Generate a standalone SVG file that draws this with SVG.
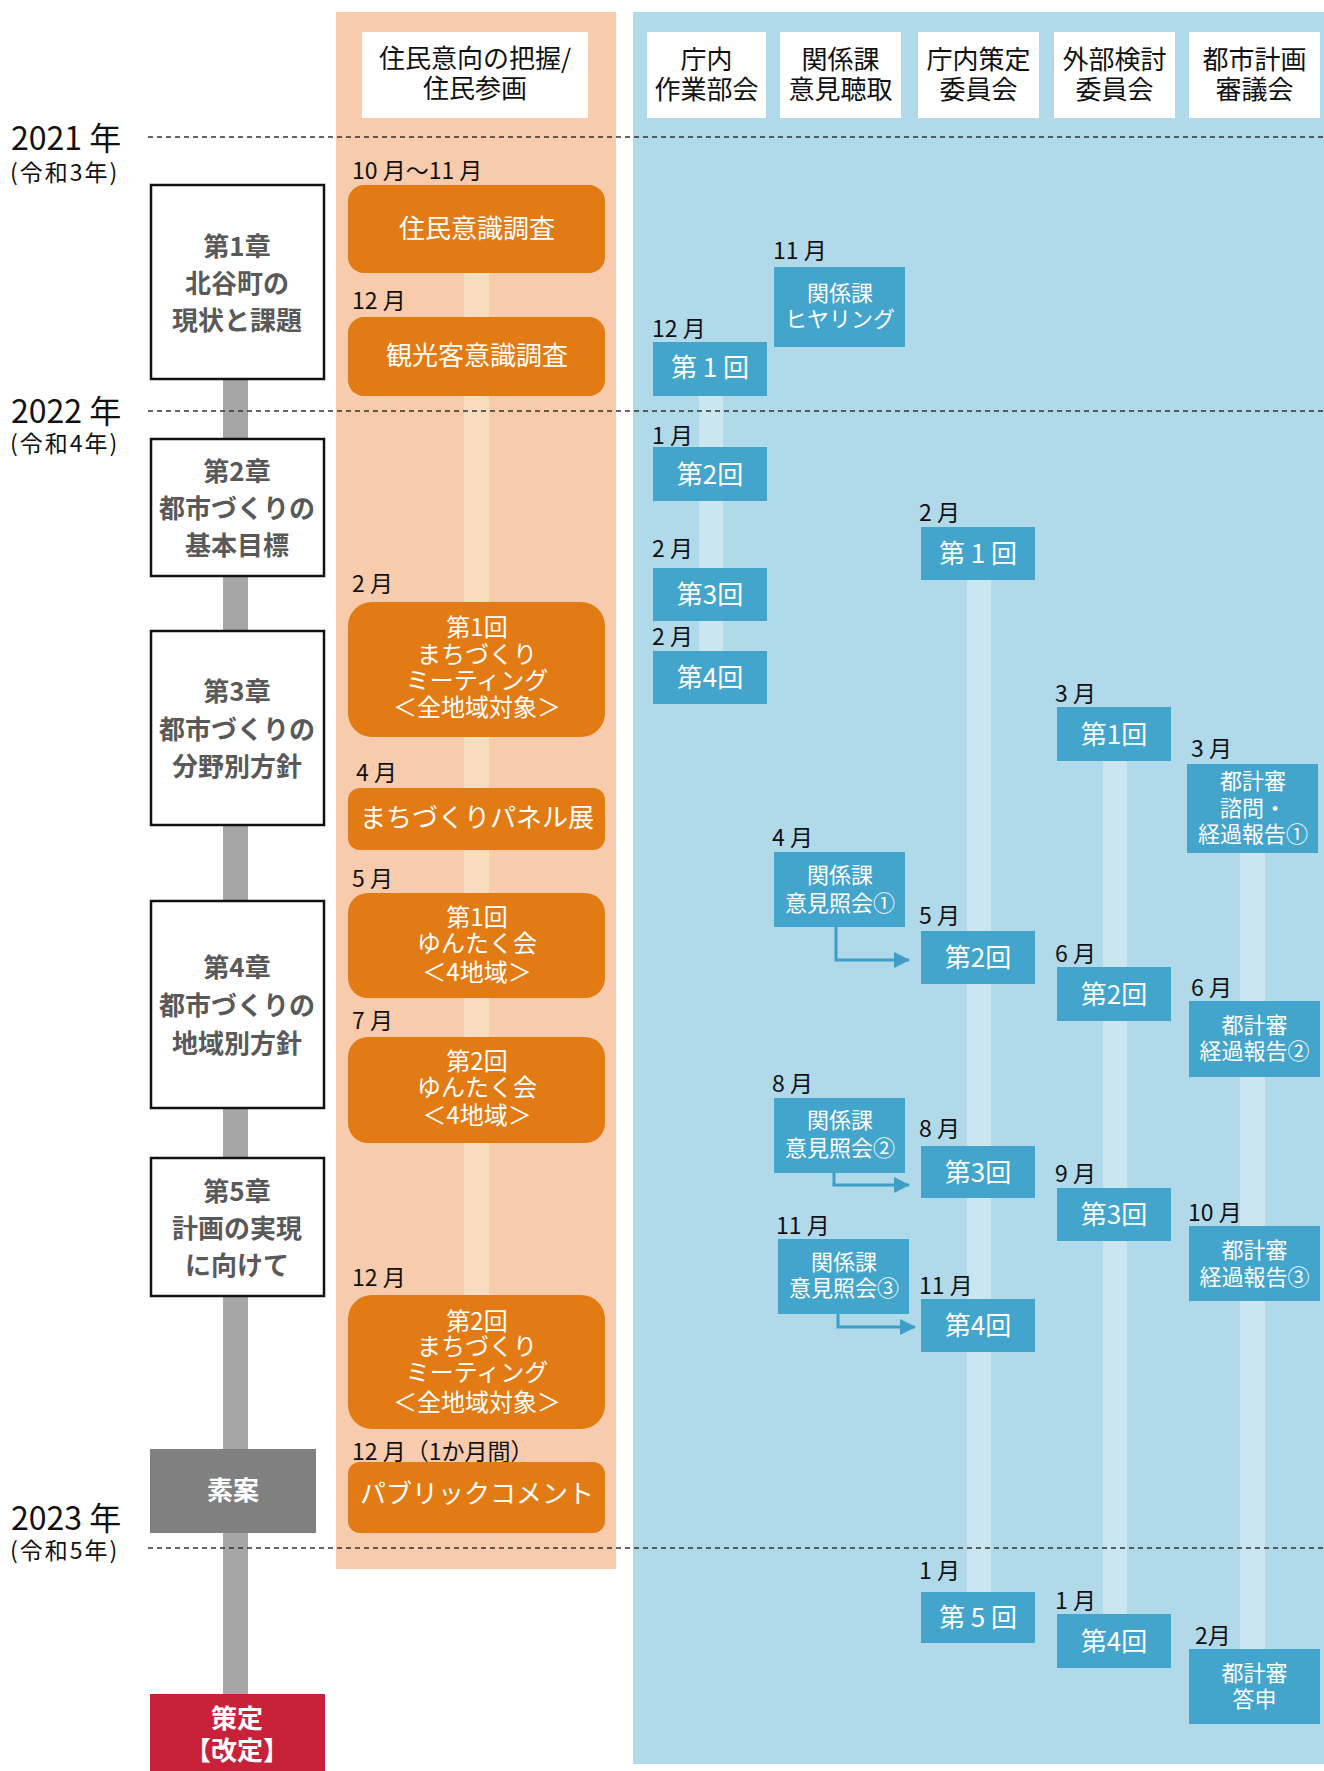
<svg xmlns="http://www.w3.org/2000/svg" width="1324" height="1771" viewBox="0 0 1324 1771">
<style>
text{font-family:"Noto Sans CJK JP","Noto Sans",sans-serif}
.hd{font-size:26px;fill:#111;text-anchor:middle}
.yr{font-size:32px;fill:#111}
.era{font-size:23px;fill:#111;letter-spacing:2px}
.ch{fill:#fff;stroke:#111;stroke-width:2.5}
.cht{font-size:26px;font-weight:bold;fill:#595959;text-anchor:middle}
.ob{fill:#e27b14}
.obt{font-size:26px;fill:#fff;text-anchor:middle}
.obm{font-size:24px;fill:#fff;text-anchor:middle}
.mo{font-size:23px;fill:#111}
.bb{fill:#44a5cc}
.bbt{font-size:26px;fill:#fff;text-anchor:middle}
.bbs{font-size:22px;fill:#fff;text-anchor:middle}
.dash{stroke:#333;stroke-width:1.5;stroke-dasharray:5 4;fill:none}
.arr{stroke:#3d9fc6;stroke-width:3;fill:none}
</style>
<defs>
<marker id="ah" viewBox="0 0 16 16" refX="15" refY="8" markerWidth="16" markerHeight="16" markerUnits="userSpaceOnUse" orient="auto">
<path d="M0,0 L16,8 L0,16 z" fill="#3d9fc6"/>
</marker>
</defs>
<rect width="1324" height="1771" fill="#fff"/>
<!-- backgrounds -->
<rect x="336" y="12" width="280" height="1557" fill="#f7cbab"/>
<rect x="633" y="12" width="691" height="1752" fill="#b0d9ea"/>
<!-- stripes -->
<rect x="464" y="273" width="25" height="1025" fill="#f8dcc0"/>
<rect x="699" y="396" width="24" height="256" fill="#c9e6f1"/>
<rect x="967" y="580" width="24" height="1013" fill="#c9e6f1"/>
<rect x="1103" y="761" width="24" height="854" fill="#c9e6f1"/>
<rect x="1240" y="853" width="25" height="797" fill="#c9e6f1"/>
<!-- gray timeline bar -->
<rect x="223" y="380" width="25" height="1315" fill="#a6a6a6"/>
<!-- headers -->
<g id="hdr-resident"><rect x="362" y="32" width="226" height="86" fill="#fff"/><text class="hd" y="68"><tspan x="475">住民意向の把握/</tspan><tspan x="475" dy="30">住民参画</tspan></text></g>
<g id="hdr-sagyo"><rect x="647" y="32" width="119" height="86" fill="#fff"/><text class="hd" y="69"><tspan x="706.5">庁内</tspan><tspan x="706.5" dy="30">作業部会</tspan></text></g>
<g id="hdr-kankei"><rect x="780" y="32" width="121" height="86" fill="#fff"/><text class="hd" y="69"><tspan x="840.5">関係課</tspan><tspan x="840.5" dy="30">意見聴取</tspan></text></g>
<g id="hdr-sakutei"><rect x="918" y="32" width="121" height="86" fill="#fff"/><text class="hd" y="69"><tspan x="978.5">庁内策定</tspan><tspan x="978.5" dy="30">委員会</tspan></text></g>
<g id="hdr-gaibu"><rect x="1054" y="32" width="121" height="86" fill="#fff"/><text class="hd" y="69"><tspan x="1114.5">外部検討</tspan><tspan x="1114.5" dy="30">委員会</tspan></text></g>
<g id="hdr-toshi"><rect x="1189" y="32" width="131" height="86" fill="#fff"/><text class="hd" y="69"><tspan x="1254.5">都市計画</tspan><tspan x="1254.5" dy="30">審議会</tspan></text></g>
<!-- year lines -->
<g id="years">
<line class="dash" x1="148" y1="137" x2="1324" y2="137"/>
<line class="dash" x1="148" y1="411" x2="1324" y2="411"/>
<line class="dash" x1="148" y1="1548" x2="1324" y2="1548"/>
<text class="yr" x="11" y="150">2021 年</text><text class="era" x="10" y="181">(令和3年)</text>
<text class="yr" x="11" y="423">2022 年</text><text class="era" x="10" y="452">(令和4年)</text>
<text class="yr" x="11" y="1530">2023 年</text><text class="era" x="10" y="1559">(令和5年)</text>
</g>
<!-- chapters -->
<g id="ch1"><rect class="ch" x="151" y="185" width="173" height="194"/><text class="cht" y="256"><tspan x="237">第1章</tspan><tspan x="237" dy="37">北谷町の</tspan><tspan x="237" dy="37">現状と課題</tspan></text></g>
<g id="ch2"><rect class="ch" x="151" y="439" width="173" height="137"/><text class="cht" y="481"><tspan x="237">第2章</tspan><tspan x="237" dy="37">都市づくりの</tspan><tspan x="237" dy="37">基本目標</tspan></text></g>
<g id="ch3"><rect class="ch" x="151" y="631" width="173" height="194"/><text class="cht" y="701"><tspan x="237">第3章</tspan><tspan x="237" dy="38">都市づくりの</tspan><tspan x="237" dy="37">分野別方針</tspan></text></g>
<g id="ch4"><rect class="ch" x="151" y="901" width="173" height="207"/><text class="cht" y="977"><tspan x="237">第4章</tspan><tspan x="237" dy="38">都市づくりの</tspan><tspan x="237" dy="38">地域別方針</tspan></text></g>
<g id="ch5"><rect class="ch" x="151" y="1158" width="173" height="138"/><text class="cht" y="1201"><tspan x="237">第5章</tspan><tspan x="237" dy="37">計画の実現</tspan><tspan x="237" dy="37">に向けて</tspan></text></g>
<g id="soan"><rect x="150" y="1449" width="166" height="84" fill="#808080"/><text x="233" y="1500" font-size="26" font-weight="bold" fill="#fff" text-anchor="middle">素案</text></g>
<g id="sakutei-final"><rect x="150" y="1694" width="175" height="77" fill="#c8223a"/><text y="1728" font-size="26" font-weight="bold" fill="#fff" text-anchor="middle"><tspan x="237">策定</tspan><tspan x="237" dy="32">【改定】</tspan></text></g>
<!-- resident column -->
<g id="r1"><text class="mo" x="352" y="179">10 月～11 月</text><rect class="ob" x="348" y="185" width="257" height="88" rx="16"/><text class="obt" x="477" y="238">住民意識調査</text></g>
<g id="r2"><text class="mo" x="352" y="309">12 月</text><rect class="ob" x="348" y="317" width="257" height="79" rx="16"/><text class="obt" x="477" y="365">観光客意識調査</text></g>
<g id="r3"><text class="mo" x="352" y="592">2 月</text><rect class="ob" x="348" y="602" width="257" height="135" rx="24"/><text class="obm" y="636"><tspan x="477">第1回</tspan><tspan x="477" dy="27">まちづくり</tspan><tspan x="477" dy="26">ミーティング</tspan><tspan x="477" dy="27">＜全地域対象＞</tspan></text></g>
<g id="r4"><text class="mo" x="356" y="781">4 月</text><rect class="ob" x="348" y="788" width="257" height="62" rx="12"/><text class="obt" x="477" y="827">まちづくりパネル展</text></g>
<g id="r5"><text class="mo" x="352" y="887">5 月</text><rect class="ob" x="348" y="893" width="257" height="105" rx="20"/><text class="obm" y="926"><tspan x="477">第1回</tspan><tspan x="477" dy="26">ゆんたく会</tspan><tspan x="477" dy="29">＜4地域＞</tspan></text></g>
<g id="r6"><text class="mo" x="352" y="1029">7 月</text><rect class="ob" x="348" y="1037" width="257" height="106" rx="20"/><text class="obm" y="1070"><tspan x="477">第2回</tspan><tspan x="477" dy="26">ゆんたく会</tspan><tspan x="477" dy="28">＜4地域＞</tspan></text></g>
<g id="r7"><text class="mo" x="352" y="1286">12 月</text><rect class="ob" x="348" y="1295" width="257" height="134" rx="24"/><text class="obm" y="1330"><tspan x="477">第2回</tspan><tspan x="477" dy="25">まちづくり</tspan><tspan x="477" dy="26">ミーティング</tspan><tspan x="477" dy="30">＜全地域対象＞</tspan></text></g>
<g id="r8"><text class="mo" x="352" y="1460">12 月（1か月間）</text><rect class="ob" x="348" y="1462" width="257" height="71" rx="12"/><text class="obt" x="477" y="1503">パブリックコメント</text></g>
<!-- sagyo column -->
<g id="s1"><text class="mo" x="652" y="337">12 月</text><rect class="bb" x="653" y="342" width="114" height="54"/><text class="bbt" x="710" y="377">第 1 回</text></g>
<g id="s2"><text class="mo" x="652" y="444">1 月</text><rect class="bb" x="653" y="447" width="114" height="54"/><text class="bbt" x="710" y="484">第2回</text></g>
<g id="s3"><text class="mo" x="652" y="557">2 月</text><rect class="bb" x="653" y="568" width="114" height="53"/><text class="bbt" x="710" y="604">第3回</text></g>
<g id="s4"><text class="mo" x="652" y="645">2 月</text><rect class="bb" x="653" y="651" width="114" height="53"/><text class="bbt" x="710" y="687">第4回</text></g>
<!-- kankei column -->
<g id="k1"><text class="mo" x="773" y="259">11 月</text><rect class="bb" x="774" y="267" width="131" height="80"/><text class="bbs" y="301"><tspan x="840">関係課</tspan><tspan x="840" dy="26">ヒヤリング</tspan></text></g>
<g id="k2"><text class="mo" x="772" y="846">4 月</text><rect class="bb" x="774" y="852" width="131" height="75"/><text class="bbs" y="883"><tspan x="840">関係課</tspan><tspan x="840" dy="28">意見照会①</tspan></text></g>
<g id="k3"><text class="mo" x="772" y="1092">8 月</text><rect class="bb" x="774" y="1098" width="131" height="75"/><text class="bbs" y="1128"><tspan x="840">関係課</tspan><tspan x="840" dy="28">意見照会②</tspan></text></g>
<g id="k4"><text class="mo" x="776" y="1234">11 月</text><rect class="bb" x="778" y="1239" width="131" height="75"/><text class="bbs" y="1270"><tspan x="844">関係課</tspan><tspan x="844" dy="26">意見照会③</tspan></text></g>
<!-- sakutei column -->
<g id="t1"><text class="mo" x="919" y="521">2 月</text><rect class="bb" x="921" y="527" width="114" height="53"/><text class="bbt" x="978" y="563">第 1 回</text></g>
<g id="t2"><text class="mo" x="919" y="924">5 月</text><rect class="bb" x="921" y="931" width="114" height="53"/><text class="bbt" x="978" y="967">第2回</text></g>
<g id="t3"><text class="mo" x="919" y="1137">8 月</text><rect class="bb" x="921" y="1146" width="114" height="52"/><text class="bbt" x="978" y="1182">第3回</text></g>
<g id="t4"><text class="mo" x="919" y="1294">11 月</text><rect class="bb" x="921" y="1299" width="114" height="53"/><text class="bbt" x="978" y="1335">第4回</text></g>
<g id="t5"><text class="mo" x="919" y="1579">1 月</text><rect class="bb" x="921" y="1592" width="114" height="51"/><text class="bbt" x="978" y="1627">第 5 回</text></g>
<!-- gaibu column -->
<g id="g1"><text class="mo" x="1055" y="702">3 月</text><rect class="bb" x="1057" y="707" width="114" height="54"/><text class="bbt" x="1114" y="744">第1回</text></g>
<g id="g2"><text class="mo" x="1055" y="962">6 月</text><rect class="bb" x="1057" y="967" width="114" height="54"/><text class="bbt" x="1114" y="1004">第2回</text></g>
<g id="g3"><text class="mo" x="1055" y="1182">9 月</text><rect class="bb" x="1057" y="1188" width="114" height="53"/><text class="bbt" x="1114" y="1224">第3回</text></g>
<g id="g4"><text class="mo" x="1055" y="1609">1 月</text><rect class="bb" x="1057" y="1614" width="114" height="54"/><text class="bbt" x="1114" y="1651">第4回</text></g>
<!-- toshi column -->
<g id="u1"><text class="mo" x="1191" y="757">3 月</text><rect class="bb" x="1187" y="764" width="131" height="89"/><text class="bbs" y="789"><tspan x="1253">都計審</tspan><tspan x="1253" dy="27">諮問・</tspan><tspan x="1253" dy="26">経過報告①</tspan></text></g>
<g id="u2"><text class="mo" x="1191" y="996">6 月</text><rect class="bb" x="1189" y="1001" width="131" height="76"/><text class="bbs" y="1033"><tspan x="1254.5">都計審</tspan><tspan x="1254.5" dy="26">経過報告②</tspan></text></g>
<g id="u3"><text class="mo" x="1188" y="1221">10 月</text><rect class="bb" x="1189" y="1226" width="131" height="75"/><text class="bbs" y="1258"><tspan x="1254.5">都計審</tspan><tspan x="1254.5" dy="27">経過報告③</tspan></text></g>
<g id="u4"><text class="mo" x="1195" y="1644">2月</text><rect class="bb" x="1189" y="1649" width="131" height="75"/><text class="bbs" y="1681"><tspan x="1254.5">都計審</tspan><tspan x="1254.5" dy="26">答申</tspan></text></g>
<!-- connectors -->
<g id="connectors">
<path class="arr" d="M836,927 V960 H909" marker-end="url(#ah)"/>
<path class="arr" d="M834,1173 V1185 H909" marker-end="url(#ah)"/>
<path class="arr" d="M838,1314 V1327 H915" marker-end="url(#ah)"/>
</g>
</svg>
